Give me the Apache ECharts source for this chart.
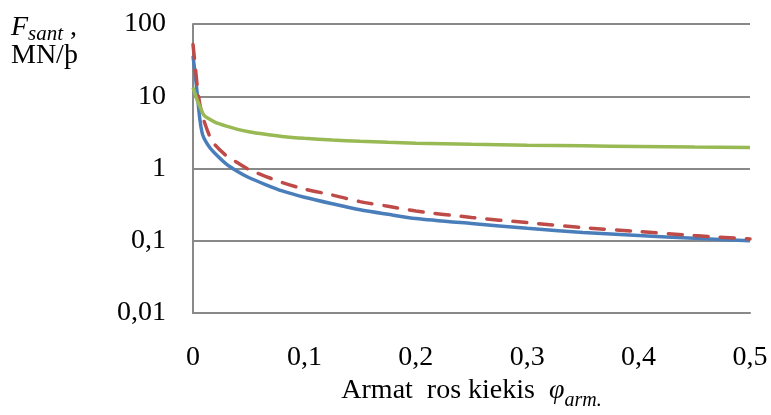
<!DOCTYPE html>
<html>
<head>
<meta charset="utf-8">
<script src="https://cdn.jsdelivr.net/npm/echarts/dist/echarts.min.js"></script>
<style>
  html, body { margin: 0; padding: 0; background: #ffffff; }
  #chart { width: 771px; height: 415px; }
</style>
</head>
<body>
<div id="chart"></div>
<script>
// Reinforcement ratio (x) and the three force curves, MN per unit (log scale)
const phiArm = [0, 0.002, 0.004, 0.006, 0.008, 0.01, 0.015, 0.02, 0.03, 0.04, 0.05, 0.065,
                0.08, 0.1, 0.125, 0.15, 0.175, 0.2, 0.25, 0.3, 0.35, 0.4, 0.45, 0.5];
const forceBlue = [36, 20, 10, 5, 3.2, 2.6, 1.95, 1.6, 1.15, 0.91, 0.75, 0.6,
                   0.49, 0.4, 0.325, 0.268, 0.232, 0.203, 0.173, 0.149, 0.13, 0.118, 0.108, 0.1];
const forceRed = [52, 26, 13, 8, 5.8, 4.5, 2.8, 2.1, 1.5, 1.2, 0.97, 0.78,
                  0.64, 0.52, 0.43, 0.348, 0.3, 0.258, 0.21, 0.178, 0.152, 0.134, 0.118, 0.106];
const forceGreen = [13.2, 10.6, 8.6, 7.3, 6.2, 5.4, 4.8, 4.36, 3.86, 3.48, 3.22, 2.97,
                    2.78, 2.62, 2.48, 2.38, 2.3, 2.24, 2.16, 2.1, 2.06, 2.02, 1.98, 1.95];

const xTickLabels = ['0', '0,1', '0,2', '0,3', '0,4', '0,5'];
const yTickLabels = ['0,01', '0,1', '1', '10', '100'];

const FONT = '"Liberation Serif", "Times New Roman", serif';
const GRID_GRAY = '#898989';

function pairs(ys) {
  return phiArm.map((x, i) => [x, ys[i]]);
}

const chart = echarts.init(document.getElementById('chart'), null, { renderer: 'canvas' });

chart.setOption({
  backgroundColor: '#ffffff',
  animation: false,
  grid: { left: 193, right: 21, top: 24, height: 289, containLabel: false, outerBoundsMode: 'none' },
  xAxis: {
    type: 'value',
    min: 0,
    max: 0.5,
    interval: 0.1,
    axisLine: { show: true, lineStyle: { color: GRID_GRAY, width: 2 } },
    axisTick: { show: false },
    splitLine: { show: false },
    axisLabel: {
      margin: 31,
      color: '#000000',
      fontFamily: FONT,
      fontSize: 28,
      formatter: v => xTickLabels[Math.round(v * 10)]
    },
    name: '{t|Armat  ros kiekis  }{phi|φ}{sub|arm.}',
    nameLocation: 'middle',
    nameGap: 57,
    nameTextStyle: {
      rich: {
        t:   { fontFamily: FONT, fontSize: 28, color: '#000', lineHeight: 40 },
        phi: { fontFamily: FONT, fontSize: 28, fontStyle: 'italic', color: '#000', lineHeight: 40 },
        sub: { fontFamily: FONT, fontSize: 20, fontStyle: 'italic', color: '#000', lineHeight: 20, verticalAlign: 'bottom' }
      }
    }
  },
  yAxis: {
    type: 'log',
    logBase: 10,
    min: 0.01,
    max: 100,
    axisLine: { show: true, lineStyle: { color: GRID_GRAY, width: 2 } },
    axisTick: { show: false },
    splitLine: { show: true, lineStyle: { color: GRID_GRAY, width: 2 } },
    minorTick: { show: false },
    axisLabel: {
      margin: 27,
      color: '#000000',
      fontFamily: FONT,
      fontSize: 28,
      formatter: v => yTickLabels[Math.round(Math.log10(v)) + 2]
    }
  },
  graphic: [
    {
      type: 'text',
      left: 11,
      top: 14,
      style: {
        text: '{F|F}{sub|sant}{c| ,}',
        rich: {
          F:   { fontFamily: FONT, fontSize: 28, fontStyle: 'italic', fill: '#000', lineHeight: 34 },
          sub: { fontFamily: FONT, fontSize: 21, fontStyle: 'italic', fill: '#000', lineHeight: 20, verticalAlign: 'bottom' },
          c:   { fontFamily: FONT, fontSize: 28, fill: '#000', lineHeight: 34 }
        }
      }
    },
    {
      type: 'text',
      left: 11,
      top: 42,
      style: {
        text: 'MN/þ',
        font: '28px ' + FONT,
        fill: '#000'
      }
    }
  ],
  series: [
    {
      type: 'line',
      data: pairs(forceBlue),
      showSymbol: false,
      smooth: 0.25,
      lineStyle: { color: '#4a7ebb', width: 3.5 },
      z: 3
    },
    {
      type: 'line',
      data: pairs(forceRed),
      showSymbol: false,
      smooth: 0.25,
      lineStyle: { color: '#be4b48', width: 3.5, type: [14, 12], cap: 'round' },
      z: 4
    },
    {
      type: 'line',
      data: pairs(forceGreen),
      showSymbol: false,
      smooth: 0.25,
      lineStyle: { color: '#98b954', width: 3.5 },
      z: 5
    }
  ]
});
</script>
</body>
</html>
